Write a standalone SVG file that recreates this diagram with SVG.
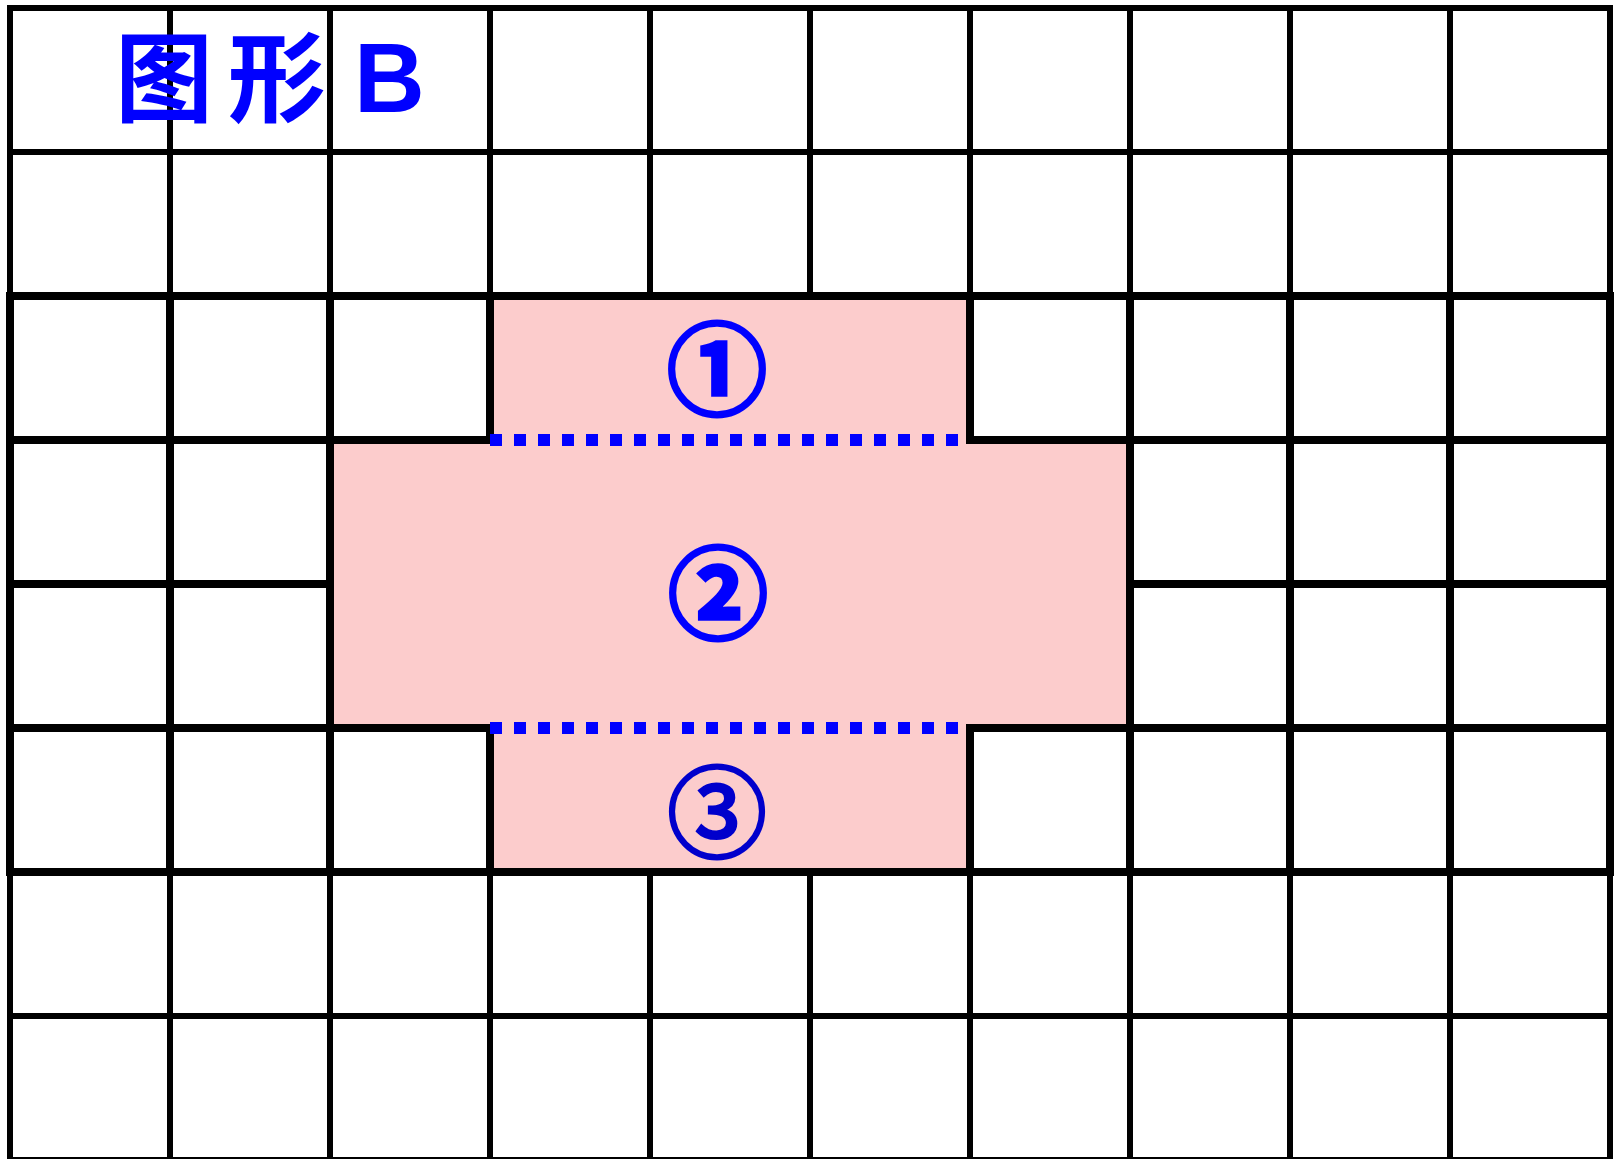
<svg xmlns="http://www.w3.org/2000/svg" width="1620" height="1159" viewBox="0 0 1620 1159">
  <style>
    .thin { stroke: #000; stroke-width: 6; stroke-linecap: square; fill: none; }
    .thick { stroke: #000; stroke-width: 8; stroke-linecap: square; fill: none; }
    .dot { stroke: #0000FF; stroke-width: 12; stroke-dasharray: 12 12; fill: none; }
    .pink { fill: #FCCCCC; stroke: none; }
    .num { font-family: "Noto Sans CJK SC", "DejaVu Sans", sans-serif; font-size: 100px; text-anchor: middle; }
  </style>
  <rect x="0" y="0" width="1620" height="1159" fill="#FFFFFF"/>
  <g id="grid">
    <path class="thin" d="M10 8H1610M10 152H1610M10 1016H1610M10 1160H1610
      M10 8V296M170 8V296M330 8V296M490 8V296M650 8V296M810 8V296M970 8V296M1130 8V296M1290 8V296M1450 8V296M1610 8V296
      M10 872V1160M170 872V1160M330 872V1160M490 872V1160M650 872V1160M810 872V1160M970 872V1160M1130 872V1160M1290 872V1160M1450 872V1160M1610 872V1160"/>
    <path class="thick" d="M10 296H1610M10 440H1610M10 584H1610M10 728H1610M10 872H1610
      M10 296V872M170 296V872M330 296V872M490 296V872M650 296V872M810 296V872M970 296V872M1130 296V872M1290 296V872M1450 296V872M1610 296V872"/>
  </g>
  <g id="shaded-region">
    <rect class="pink" x="494" y="300" width="472" height="568"/>
    <rect class="pink" x="334" y="444" width="792" height="280"/>
  </g>
  <g id="connectors">
    <line class="dot" x1="490" y1="440" x2="958" y2="440"/>
    <line class="dot" x1="490" y1="728" x2="958" y2="728"/>
  </g>
  <g id="title">
    <text font-family="'Noto Sans CJK SC', sans-serif" font-size="98" font-weight="bold" fill="#0000FF" x="115 228" y="114">图形</text>
    <text font-family="'Liberation Sans', Arial, sans-serif" font-size="98" font-weight="bold" fill="#0000FF" x="354" y="112">B</text>
  </g>
  <g id="part1">
    <text class="num" font-weight="bold" fill="#0000FF" stroke="#0000FF" stroke-width="3.5" x="717" y="407">①</text>
  </g>
  <g id="part2">
    <text class="num" font-weight="bold" fill="#0000FF" stroke="#0000FF" stroke-width="3.5" x="718" y="631">②</text>
  </g>
  <g id="part3">
    <text class="num" fill="#0000CC" stroke="#0000CC" stroke-width="3" x="717" y="850">③</text>
  </g>
</svg>
